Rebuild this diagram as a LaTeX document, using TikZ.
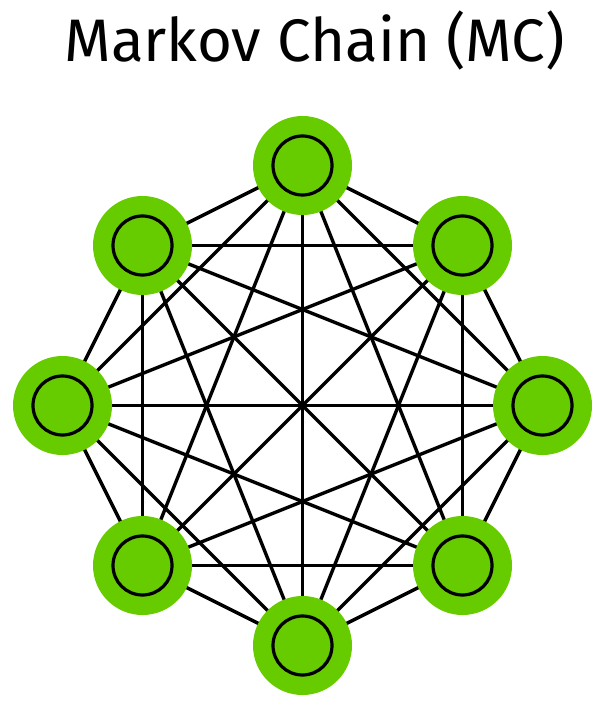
\documentclass[tikz,border=0pt]{standalone}
\usepackage{fontspec}
\setmainfont{Fira Sans}
\usetikzlibrary{backgrounds}
\definecolor{nodegreen}{HTML}{66CC00}
\begin{document}
\begin{tikzpicture}[x=1pt,y=-1pt,
  state/.style={circle,fill=nodegreen,minimum size=99pt,inner sep=0pt,
    path picture={\draw[black,line width=3.2pt] (path picture bounding box.center) circle (29.5pt);}},
  edge/.style={black,line width=3.4pt}]
\useasboundingbox (0,0) rectangle (614,708);
\node[font=\fontsize{60}{60}\selectfont,anchor=base] (title) at (314.5,61.7) {Markov Chain (MC)};
\node[state] (n1) at (302.5,165.5) {};
\node[state] (n2) at (462.5,245.5) {};
\node[state] (n3) at (542.5,405.5) {};
\node[state] (n4) at (462.5,565.5) {};
\node[state] (n5) at (302.5,645.5) {};
\node[state] (n6) at (142.5,565.5) {};
\node[state] (n7) at (62.5,405.5) {};
\node[state] (n8) at (142.5,245.5) {};
\begin{scope}[on background layer]
\foreach \i in {1,...,8}{
  \foreach \j in {1,...,8}{
    \ifnum\i<\j
      \draw[edge] (n\i.center) -- (n\j.center);
    \fi
  }
}
\end{scope}
\end{tikzpicture}
\end{document}
